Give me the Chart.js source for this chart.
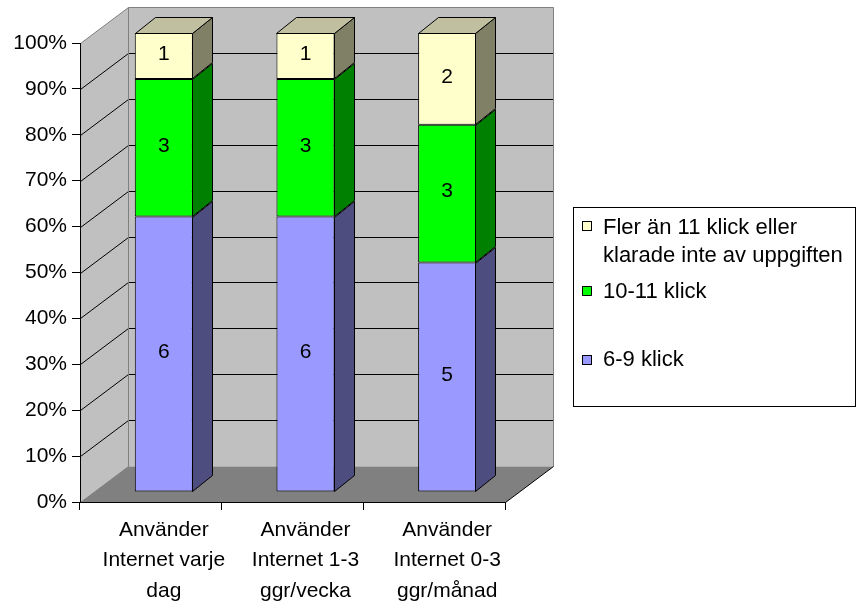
<!DOCTYPE html>
<html>
<head>
<meta charset="utf-8">
<script src="https://cdn.jsdelivr.net/npm/chart.js@4.4.1/dist/chart.umd.min.js"></script>
<style>
  body { margin: 0; background: #fff; }
  canvas { display: block; }
</style>
</head>
<body>
<canvas id="chart" width="858" height="610"></canvas>
<script>
// data (counts per group)
const categories = [
    ['Använder', 'Internet varje', 'dag'],
    ['Använder', 'Internet 1-3', 'ggr/vecka'],
    ['Använder', 'Internet 0-3', 'ggr/månad']
];
const seriesNames = ['6-9 klick', '10-11 klick', 'Fler än 11 klick eller klarade inte av uppgiften'];
const klick6to9 = [6, 6, 5];
const klick10to11 = [3, 3, 3];
const klickOver11 = [1, 1, 2];
const yTicks = [0, 10, 20, 30, 40, 50, 60, 70, 80, 90, 100];

const counts = [klick6to9, klick10to11, klickOver11];
const totals = categories.map((c, i) => counts.reduce((s, arr) => s + arr[i], 0));
const frontColors = ['#9999ff', '#00ff00', '#ffffcc'];
const sideColors = ['#4d4d80', '#008000', '#808066'];
const topColors = ['#7373bf', '#00c000', '#c0c0a0'];

const FONT = '"Liberation Sans", Arial, sans-serif';
const WALL = { x: 48, y: -36 };     // depth of the whole plot box
const SHIFT = { x: 13, y: -10 };    // where the bar fronts sit inside the box
const BAR = { x: 20, y: -16 };      // depth of each bar

function poly(ctx, pts, fill, stroke) {
    ctx.beginPath();
    ctx.moveTo(pts[0][0], pts[0][1]);
    for (let i = 1; i < pts.length; i++) ctx.lineTo(pts[i][0], pts[i][1]);
    ctx.closePath();
    if (fill) { ctx.fillStyle = fill; ctx.fill(); }
    if (stroke) { ctx.strokeStyle = stroke; ctx.stroke(); }
}

function seg(ctx, x1, y1, x2, y2, color) {
    ctx.beginPath();
    ctx.moveTo(x1, y1);
    ctx.lineTo(x2, y2);
    ctx.strokeStyle = color;
    ctx.stroke();
}

const box3d = {
    id: 'box3d',
    beforeDraw(chart) {
        const { ctx, chartArea: a, scales: { y } } = chart;
        const L = a.left + 0.5, R = a.right + 0.5, T = a.top + 0.5, B = a.bottom + 0.5;
        const dx = WALL.x, dy = WALL.y;
        ctx.save();
        ctx.lineWidth = 1;
        // back wall, left wall, floor
        poly(ctx, [[L + dx, T + dy], [R + dx, T + dy], [R + dx, B + dy], [L + dx, B + dy]], '#c0c0c0');
        poly(ctx, [[L, T], [L + dx, T + dy], [L + dx, B + dy], [L, B]], '#c0c0c0');
        poly(ctx, [[L, B], [R, B], [R + dx, B + dy], [L + dx, B + dy]], '#808080');
        // grid lines on the walls
        yTicks.forEach(v => {
            if (v === 0 || v === 100) return;
            const py = Math.round(y.getPixelForValue(v)) + 0.5;
            seg(ctx, L, py, L + dx, py + dy, '#000');
            seg(ctx, L + dx, py + dy, R + dx, py + dy, '#000');
        });
        // wall edges
        seg(ctx, L, T, L + dx, T + dy, '#808080');
        seg(ctx, L + dx, T + dy, R + dx, T + dy, '#808080');
        seg(ctx, R + dx, T + dy, R + dx, B + dy, '#808080');
        seg(ctx, L + dx, T + dy, L + dx, B + dy, '#808080');
        seg(ctx, L, B, L + dx, B + dy, '#808080');
        seg(ctx, R, B, R + dx, B + dy, '#000');
        ctx.restore();
    },
    beforeDatasetsDraw(chart) {
        chart.ctx.save();
        chart.ctx.translate(SHIFT.x, SHIFT.y);
    },
    afterDatasetsDraw(chart) {
        const ctx = chart.ctx;
        ctx.restore();
        ctx.save();
        ctx.translate(SHIFT.x, SHIFT.y);
        ctx.lineWidth = 1;
        ctx.lineJoin = 'miter';
        const last = chart.data.datasets.length - 1;
        chart.data.datasets.forEach((ds, di) => {
            const meta = chart.getDatasetMeta(di);
            meta.data.forEach((el, i) => {
                const left = Math.round(el.x - el.width / 2) + 0.5;
                const right = Math.round(el.x + el.width / 2) - 0.5;
                const top = Math.round(Math.min(el.y, el.base)) + 0.5;
                const bottom = Math.round(Math.max(el.y, el.base)) - 0.5;
                poly(ctx, [[right, top], [right + BAR.x, top + BAR.y], [right + BAR.x, bottom + BAR.y], [right, bottom]], sideColors[di], '#000');
                if (di === last) {
                    poly(ctx, [[left, top], [left + BAR.x, top + BAR.y], [right + BAR.x, top + BAR.y], [right, top]], topColors[di], '#000');
                }
                ctx.fillStyle = '#000';
                ctx.font = '21px ' + FONT;
                ctx.textAlign = 'center';
                ctx.textBaseline = 'middle';
                ctx.fillText(String(counts[di][i]), el.x, (el.y + el.base) / 2 - 2);
            });
        });
        ctx.restore();
    },
    afterDraw(chart) {
        // legend box on the right, top series first
        const ctx = chart.ctx;
        const rows = [
            { sw: 226, text: [228, 256] },
            { sw: 291, text: [292] },
            { sw: 360, text: [360] }
        ];
        ctx.save();
        ctx.lineWidth = 1;
        ctx.strokeStyle = '#000';
        ctx.strokeRect(573.5, 207.5, 282, 199);
        ctx.font = '22px ' + FONT;
        ctx.textAlign = 'left';
        ctx.textBaseline = 'middle';
        const order = chart.data.datasets.map((d, i) => i).reverse();
        order.forEach((di, r) => {
            const ds = chart.data.datasets[di];
            const row = rows[r];
            ctx.fillStyle = ds.backgroundColor;
            ctx.fillRect(582.5, row.sw - 4.5, 9, 9);
            ctx.strokeRect(582.5, row.sw - 4.5, 9, 9);
            // wrap long labels
            const words = ds.label.split(' ');
            const lines = [];
            let cur = '';
            words.forEach(w => {
                const t = cur ? cur + ' ' + w : w;
                if (ctx.measureText(t).width > 250 && cur) { lines.push(cur); cur = w; }
                else cur = t;
            });
            lines.push(cur);
            ctx.fillStyle = '#000';
            lines.forEach((ln, k) => ctx.fillText(ln, 603, row.text[k]));
        });
        ctx.restore();
    }
};

new Chart(document.getElementById('chart'), {
    type: 'bar',
    data: {
        labels: categories,
        datasets: counts.map((arr, di) => ({
            label: seriesNames[di],
            data: arr.map((v, i) => v / totals[i] * 100),
            backgroundColor: frontColors[di],
            borderColor: '#000',
            borderWidth: 1,
            borderSkipped: false,
            categoryPercentage: 1,
            barPercentage: 0.41,
            clip: false
        }))
    },
    options: {
        responsive: false,
        animation: false,
        events: [],
        layout: { padding: { top: 43, right: 353, left: 0, bottom: 0 } },
        plugins: {
            legend: { display: false },
            tooltip: { enabled: false }
        },
        scales: {
            x: {
                stacked: true,
                ticks: { color: '#000', font: { family: FONT, size: 21, lineHeight: 1.45 }, padding: 5, labelOffset: SHIFT.x, maxRotation: 0, autoSkip: false },
                grid: { drawOnChartArea: false, tickLength: 8, color: '#000', offset: true },
                border: { color: '#000' },
                afterFit: s => { s.height = 108; }
            },
            y: {
                stacked: true,
                min: 0,
                max: 100,
                afterBuildTicks: s => { s.ticks = yTicks.map(v => ({ value: v })); },
                ticks: { color: '#000', font: { family: FONT, size: 21 }, padding: 5, callback: v => v + '%' },
                grid: { drawOnChartArea: false, tickLength: 8, color: '#000' },
                border: { color: '#000' },
                afterFit: s => { s.width = 80; }
            }
        }
    },
    plugins: [box3d]
});
</script>
</body>
</html>
